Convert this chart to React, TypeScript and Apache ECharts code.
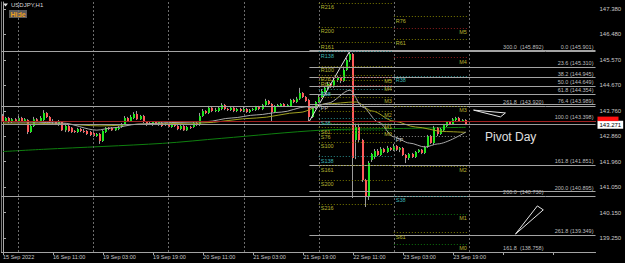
import React, { useEffect, useRef } from "react";
import * as echarts from "echarts";

const FONT = "Liberation Sans";
const xTickLabels = ["15 Sep 2022", "16 Sep 11:00", "19 Sep 03:00", "19 Sep 19:00", "20 Sep 11:00", "21 Sep 03:00", "21 Sep 19:00", "22 Sep 11:00", "23 Sep 03:00", "23 Sep 19:00"];
const yTickValues = [139.25, 140.15, 141.05, 141.96, 142.86, 143.76, 144.67, 145.57, 146.48, 147.38];
const SLOT_COUNT = 190;
const dayStartBars = [5, 29, 53, 77, 101, 125, 149];
const Y_MIN = 138.754;
const Y_MAX = 147.628;

// [open, close, low, high]
const sep15 = [
  [143.58, 143.40, 143.37, 143.65], [143.40, 143.51, 143.37, 143.55], [143.51, 143.37, 143.33, 143.55],
  [143.37, 143.47, 143.33, 143.51], [143.47, 143.40, 143.37, 143.51],
];
const sep16 = [
  [143.40, 143.51, 143.37, 143.58], [143.51, 143.40, 143.37, 143.55], [143.40, 143.47, 143.37, 143.51],
  [143.44, 143.01, 142.94, 143.47], [143.01, 143.23, 142.98, 143.26], [143.23, 143.47, 143.19, 143.55],
  [143.47, 143.40, 143.37, 143.51], [143.40, 143.51, 143.37, 143.58], [143.44, 143.69, 143.40, 143.79],
  [143.69, 143.55, 143.51, 143.72], [143.55, 143.40, 143.33, 143.58], [143.37, 143.40, 143.30, 143.47],
  [143.37, 143.30, 143.26, 143.40], [143.26, 143.37, 143.23, 143.44], [143.37, 143.08, 143.05, 143.40],
  [143.08, 143.23, 143.01, 143.26], [143.23, 143.05, 143.01, 143.26], [143.16, 143.01, 142.98, 143.19],
  [143.05, 143.01, 142.98, 143.08], [143.01, 143.12, 142.98, 143.16], [143.12, 143.05, 143.01, 143.16],
  [143.05, 143.01, 142.98, 143.12], [143.05, 142.94, 142.91, 143.08], [143.01, 142.91, 142.87, 143.05],
];
const sep19 = [
  [142.98, 142.87, 142.84, 143.01], [142.87, 142.94, 142.84, 142.98], [142.94, 142.69, 142.59, 142.98],
  [142.69, 143.05, 142.66, 143.08], [143.01, 143.16, 142.98, 143.19], [143.16, 143.12, 143.08, 143.19],
  [143.16, 143.08, 143.05, 143.19], [143.08, 143.16, 143.05, 143.19], [143.12, 143.16, 143.08, 143.23],
  [143.19, 143.30, 143.16, 143.33], [143.30, 143.51, 143.26, 143.58], [143.51, 143.40, 143.37, 143.55],
  [143.40, 143.55, 143.37, 143.62], [143.51, 143.65, 143.47, 143.72], [143.65, 143.47, 143.44, 143.76],
  [143.47, 143.58, 143.44, 143.62], [143.58, 143.37, 143.33, 143.62], [143.37, 143.26, 143.23, 143.40],
  [143.30, 143.33, 143.26, 143.37], [143.26, 143.37, 143.23, 143.40], [143.37, 143.30, 143.26, 143.40],
  [143.26, 143.37, 143.23, 143.40], [143.33, 143.23, 143.19, 143.37], [143.26, 143.30, 143.23, 143.33],
];
const sep20 = [
  [143.30, 143.19, 143.16, 143.33], [143.19, 143.30, 143.16, 143.33], [143.30, 143.23, 143.19, 143.33],
  [143.23, 143.12, 143.08, 143.26], [143.12, 143.23, 143.08, 143.26], [143.23, 143.08, 143.05, 143.26],
  [143.08, 143.19, 143.05, 143.23], [143.19, 143.16, 143.12, 143.23], [143.19, 143.33, 143.16, 143.37],
  [143.33, 143.26, 143.23, 143.37], [143.26, 143.58, 143.23, 143.69], [143.58, 143.76, 143.55, 143.83],
  [143.76, 143.69, 143.65, 143.79], [143.69, 143.87, 143.65, 143.94], [143.87, 143.76, 143.72, 143.90],
  [143.76, 143.79, 143.72, 143.87], [143.76, 143.87, 143.72, 143.90], [143.83, 143.97, 143.79, 144.04],
  [143.97, 143.83, 143.79, 144.01], [143.83, 143.79, 143.76, 143.87], [143.79, 143.87, 143.76, 143.90],
  [143.87, 143.76, 143.72, 143.90], [143.76, 143.83, 143.72, 143.87], [143.83, 143.76, 143.72, 143.87],
];
const sep21 = [
  [143.76, 143.83, 143.72, 143.90], [143.83, 143.72, 143.69, 143.87], [143.72, 143.79, 143.69, 143.83],
  [143.79, 143.83, 143.76, 143.87], [143.79, 143.90, 143.76, 143.94], [143.90, 143.83, 143.79, 143.94],
  [143.83, 143.97, 143.79, 144.01], [143.97, 144.11, 143.94, 144.19], [144.11, 144.01, 143.97, 144.15],
  [144.01, 143.72, 143.37, 144.04], [143.72, 143.94, 143.69, 143.97], [143.94, 143.97, 143.90, 144.01],
  [143.94, 144.01, 143.90, 144.04], [144.01, 143.94, 143.90, 144.04], [143.94, 143.97, 143.90, 144.01],
  [143.94, 144.15, 143.90, 144.19], [144.15, 144.08, 144.04, 144.19], [144.08, 144.19, 144.04, 144.26],
  [144.19, 144.40, 144.15, 144.58], [144.40, 144.26, 144.22, 144.43], [144.26, 144.11, 144.08, 144.29],
  [144.15, 143.55, 143.40, 144.19], [143.55, 143.87, 143.51, 143.94], [143.87, 144.08, 143.83, 144.11],
];
const sep22 = [
  [144.08, 144.26, 144.04, 144.33], [144.26, 144.47, 144.22, 144.54], [144.43, 144.58, 144.40, 144.65],
  [144.58, 144.72, 144.54, 144.79], [144.72, 144.61, 144.58, 144.75], [144.61, 144.86, 144.58, 144.93],
  [144.86, 144.93, 144.79, 145.00], [144.93, 144.82, 144.75, 144.97], [144.82, 145.21, 144.79, 145.28],
  [145.21, 145.57, 145.18, 145.64], [145.57, 145.78, 145.50, 145.90], [145.78, 142.09, 140.67, 145.82],
  [142.73, 143.19, 142.05, 143.30], [143.19, 142.73, 142.66, 143.26], [142.73, 141.31, 141.24, 142.77],
  [141.31, 140.71, 140.35, 141.35], [140.71, 141.91, 140.60, 141.98], [142.02, 142.23, 141.95, 142.27],
  [142.13, 142.34, 142.06, 142.41], [142.34, 142.20, 142.16, 142.41], [142.20, 142.41, 142.16, 142.48],
  [142.41, 142.30, 142.27, 142.45], [142.30, 142.45, 142.27, 142.52], [142.45, 142.38, 142.34, 142.48],
];
const sep23 = [
  [142.38, 142.52, 142.34, 142.59], [142.52, 142.38, 142.34, 142.55], [142.38, 142.45, 142.30, 142.48],
  [142.45, 142.20, 142.16, 142.48], [142.20, 142.09, 141.91, 142.23], [142.09, 142.23, 142.02, 142.27],
  [142.23, 142.13, 142.09, 142.27], [142.13, 142.30, 142.09, 142.34], [142.30, 142.38, 142.27, 142.41],
  [142.38, 142.27, 142.23, 142.41], [142.27, 142.48, 142.23, 142.52], [142.48, 142.87, 142.45, 142.91],
  [142.87, 142.62, 142.59, 142.91], [142.62, 143.16, 142.55, 143.23], [143.16, 142.94, 142.87, 143.19],
  [142.94, 143.12, 142.91, 143.16], [143.08, 143.26, 143.05, 143.30], [143.23, 143.37, 143.19, 143.40],
  [143.37, 143.30, 143.26, 143.40], [143.30, 143.47, 143.26, 143.51], [143.44, 143.51, 143.40, 143.55],
  [143.51, 143.40, 143.37, 143.55], [143.40, 143.44, 143.37, 143.47], [143.44, 143.27, 143.26, 143.47],
];

// moving averages: [bar index, price]
const maOlive = [[0, 143.33], [9, 143.33], [18, 143.30], [31, 143.23], [47, 143.30], [63, 143.33], [81, 143.51], [95, 143.71], [103, 144.01], [113, 144.08], [118, 143.76], [125, 143.40], [132, 143.19], [141, 143.03], [148, 143.00]];
const maGrey = [[0, 143.38], [9, 143.37], [19, 143.33], [30, 143.08], [35, 143.16], [43, 143.29], [54, 143.35], [65, 143.38], [73, 143.51], [81, 143.62], [89, 143.72], [97, 143.91], [99, 143.87], [104, 144.04], [111, 144.50], [115, 143.90], [120, 143.37], [125, 142.84], [130, 142.62], [135, 142.48], [139, 142.59], [148, 143.01]];
const maGreen = [[0, 142.32], [13, 142.40], [51, 142.61], [70, 142.79], [102, 143.08], [128, 143.14], [148, 143.18]];
const zigzag = [[98, 143.40], [111, 145.90]];
const wedgeA = [[150.5, 143.79], [160.7, 143.69], [159.1, 143.55], [150.5, 143.79]];
const wedgeB = [[163.9, 139.39], [170.9, 140.39], [172.8, 140.25], [163.9, 139.39]];
const bidPrice = 143.271;
const askPrice = 143.40;

// Fibonacci sets
const fibALevels = ["0.0", "23.6", "38.2", "50.0", "61.8", "76.4", "100.0", "161.8", "200.0", "261.8"];
const fibAPrices = [145.901, 145.31, 144.945, 144.649, 144.354, 143.989, 143.398, 141.851, 140.895, 139.349];
const fibBLevels = ["300.0", "261.8", "200.0", "161.8"];
const fibBPrices = [145.892, 143.92, 140.73, 138.758];

// Pivot levels
const pivot1Names = ["R216", "R200", "R161", "R138", "R100", "R76", "R61", "R38", "PP", "S38", "S61", "S76", "S100", "S138", "S161", "S200", "S216"];
const pivot1Values = [147.59, 146.74, 146.19, 145.87, 145.36, 145.04, 144.85, 144.52, 144.01, 143.49, 143.17, 142.98, 142.66, 142.14, 141.82, 141.31, 140.46];
const midNames = ["M5", "M4", "M3", "M2", "M1", "M0"];
const mid1Values = [144.95, 144.68, 144.26, 143.75, 143.33, 143.07];
const pivot2Names = ["R76", "R61", "R38", "PP", "S38", "S61"];
const pivot2Values = [147.11, 146.30, 144.99, 142.87, 140.75, 139.44];
const mid2Values = [146.71, 145.65, 143.93, 141.81, 140.10, 139.03];

function hSeg(x1: number, x2: number, y: number, lineStyle: any, label: any) {
  return [{ coord: [x1, y], lineStyle, label }, { coord: [x2, y] }];
}
function lbl(text: string, position: string, color: string, size = 5.5) {
  return { show: true, position, formatter: text, color, fontSize: size, fontFamily: FONT, distance: [2, 1] };
}
const noLabel = { show: false };

function pivotColors(name: string) {
  if (name === "PP") return { line: "#8c8c8c", text: "#d0d0d0" };
  if (name.endsWith("38")) return { line: "#2a8a8a", text: "#3cb4b4" };
  return { line: "#7a7a00", text: "#b4b430" };
}
function midColor(name: string) {
  if (name === "M5" || name === "M4") return "#8c1c1c";
  if (name === "M1" || name === "M0") return "#0c700c";
  return "#7a7a00";
}

function buildOption() {
  const bars = [...sep15, ...sep16, ...sep19, ...sep20, ...sep21, ...sep22, ...sep23];
  const candleData = bars.map((r, i) => [i, r[0], r[1], r[2], r[3]]);
  const categories = Array.from({ length: SLOT_COUNT }, (_, i) => String(i));
  const xEnd = SLOT_COUNT - 0.5;
  const fibStyle = { color: "#a4a4a4", width: 1, type: "solid" };

  const levelLines: any[] = [];
  fibAPrices.forEach((p, k) => {
    levelLines.push(hSeg(98, xEnd, p, fibStyle, lbl(`${fibALevels[k]} (${p.toFixed(3)})`, "insideEndTop", "#bdbdbd")));
  });
  fibBPrices.forEach((p, k) => {
    levelLines.push(hSeg(-0.5, 173.5, p, fibStyle, lbl(`${fibBLevels[k]}  (${p.toFixed(3)})`, "insideEndTop", "#bdbdbd")));
    levelLines.push(hSeg(173.5, xEnd, p, fibStyle, noLabel));
  });
  const dotted = [1, 2];
  pivot1Names.forEach((n, k) => {
    const c = pivotColors(n);
    levelLines.push(hSeg(101, 125, pivot1Values[k], { color: c.line, width: 1, type: dotted }, lbl(n, "insideStartBottom", c.text)));
  });
  midNames.forEach((n, k) => {
    levelLines.push(hSeg(101, 125, mid1Values[k], { color: midColor(n), width: 1, type: dotted }, lbl(n, "insideEndBottom", "#b4b430")));
  });
  pivot2Names.forEach((n, k) => {
    const c = pivotColors(n);
    levelLines.push(hSeg(125, 149, pivot2Values[k], { color: c.line, width: 1, type: dotted }, lbl(n, "insideStartBottom", c.text)));
  });
  midNames.forEach((n, k) => {
    levelLines.push(hSeg(125, 149, mid2Values[k], { color: midColor(n), width: 1, type: dotted }, lbl(n, "insideEndBottom", "#b4b430")));
  });

  const priceLines = [
    hSeg(-0.5, xEnd, askPrice, { color: "#a02020", width: 1, type: "solid" }, noLabel),
    hSeg(-0.5, xEnd, bidPrice, { color: "#9c9c9c", width: 1, type: "solid" }, {
      show: true, position: "end", distance: 2, formatter: bidPrice.toFixed(3), color: "#000",
      backgroundColor: "#ffffff", fontSize: 6, fontFamily: FONT, padding: [1, 2, 1, 2],
    }),
  ];

  return {
    animation: false,
    backgroundColor: "#000000",
    textStyle: { fontFamily: FONT },
    grid: { left: 0.5, right: 29.5, top: 2, bottom: 11 },
    xAxis: [
      {
        type: "category",
        data: categories,
        boundaryGap: true,
        axisLine: { show: true, lineStyle: { color: "#a8a8a8", width: 1 } },
        axisTick: { show: true, interval: 15, alignWithLabel: true, length: 3, lineStyle: { color: "#a8a8a8" } },
        axisLabel: {
          interval: 15,
          align: "left",
          margin: 2,
          fontSize: 5.5,
          color: "#c8c8c8",
          fontFamily: FONT,
          formatter: (_v: string, idx: number) => (idx % 16 === 0 && xTickLabels[idx / 16]) ? xTickLabels[idx / 16] : "",
        },
        splitLine: { show: false },
      },
      { type: "value", min: -0.5, max: xEnd, show: false },
    ],
    yAxis: [
      {
        type: "value",
        position: "right",
        min: Y_MIN,
        max: Y_MAX,
        axisLine: { show: true, lineStyle: { color: "#a8a8a8" } },
        axisTick: { show: true, length: 3, customValues: yTickValues, lineStyle: { color: "#a8a8a8" } },
        axisLabel: {
          show: true,
          customValues: yTickValues,
          formatter: (v: number) => v.toFixed(3),
          fontSize: 6,
          color: "#c8c8c8",
          margin: 4,
          fontFamily: FONT,
        },
        splitLine: { show: false },
      },
      {
        type: "value",
        position: "left",
        min: Y_MIN,
        max: Y_MAX,
        axisLine: { show: true, lineStyle: { color: "#7a7a7a" } },
        axisTick: { show: false },
        axisLabel: { show: false },
        splitLine: { show: false },
      },
    ],
    series: [
      {
        type: "line",
        xAxisIndex: 1,
        yAxisIndex: 0,
        data: maGreen,
        smooth: 0.3,
        symbol: "none",
        z: 1,
        lineStyle: { color: "#0f7f0f", width: 1 },
        markLine: {
          silent: true,
          symbol: ["none", "none"],
          label: { show: false },
          lineStyle: { color: "#6c6c6c", width: 1, type: [2, 2] },
          data: dayStartBars.map((b) => ({ xAxis: b })),
        },
      },
      {
        type: "line",
        xAxisIndex: 1,
        yAxisIndex: 0,
        data: zigzag,
        symbol: "none",
        z: 4,
        lineStyle: { color: "#e6e6e6", width: 1 },
        markLine: {
          silent: true,
          symbol: ["none", "none"],
          data: levelLines,
        },
      },
      {
        type: "custom",
        xAxisIndex: 0,
        yAxisIndex: 0,
        z: 2,
        data: candleData,
        encode: { x: 0, y: [1, 2, 3, 4] },
        renderItem: (_params: any, api: any) => {
          const x = api.value(0);
          const o = api.value(1);
          const c = api.value(2);
          const l = api.value(3);
          const h = api.value(4);
          const pO = api.coord([x, o]);
          const pC = api.coord([x, c]);
          const pL = api.coord([x, l]);
          const pH = api.coord([x, h]);
          const cx = Math.round(pO[0]);
          const top = Math.min(pO[1], pC[1]);
          const bh = Math.max(1, Math.abs(pO[1] - pC[1]));
          const up = c >= o;
          return {
            type: "group",
            children: [
              { type: "line", shape: { x1: cx - 0.5, y1: pH[1], x2: cx - 0.5, y2: pL[1] }, style: { stroke: "#9c9c9c", lineWidth: 1 } },
              { type: "rect", shape: { x: cx - 1, y: top, width: 2, height: bh }, style: { fill: up ? "#1ee61e" : "#ff5a5a" } },
            ],
          };
        },
      },
      {
        type: "line",
        xAxisIndex: 1,
        yAxisIndex: 0,
        data: maOlive,
        smooth: 0.3,
        smoothMonotone: "x",
        symbol: "none",
        z: 3,
        lineStyle: { color: "#a0a020", width: 1 },
      },
      {
        type: "line",
        xAxisIndex: 1,
        yAxisIndex: 0,
        data: maGrey,
        smooth: 0.3,
        smoothMonotone: "x",
        symbol: "none",
        z: 3,
        lineStyle: { color: "#a8a8a8", width: 1 },
        markLine: {
          silent: true,
          symbol: ["none", "none"],
          data: priceLines,
        },
      },
      {
        type: "line",
        xAxisIndex: 1,
        yAxisIndex: 0,
        data: wedgeA,
        symbol: "none",
        z: 4,
        lineStyle: { color: "#e6e6e6", width: 1 },
      },
      {
        type: "line",
        xAxisIndex: 1,
        yAxisIndex: 0,
        data: wedgeB,
        symbol: "none",
        z: 4,
        lineStyle: { color: "#e6e6e6", width: 1 },
      },
    ],
    graphic: [
      { id: "tri", type: "polygon", shape: { points: [[3, 3.5], [8, 3.5], [5.5, 6.5]] }, style: { fill: "#e0e0e0" } },
      { id: "title", type: "text", x: 11, y: 2, style: { text: "USDJPY,H1", fill: "#d8d8d8", fontSize: 6, fontFamily: FONT } },
      { id: "hideBg", type: "rect", shape: { x: 9, y: 10, width: 18, height: 8 }, style: { fill: "#595959" } },
      { id: "hideTx", type: "text", x: 10.5, y: 10.5, style: { text: "Hide", fill: "#f0a020", fontSize: 7, fontWeight: "bold", fontFamily: FONT } },
      { id: "pivotDay", type: "text", x: 485, y: 131, style: { text: "Pivot Day", fill: "#e0e0e0", fontSize: 12, fontFamily: FONT } },
    ],
  };
}

export default function App() {
  const ref = useRef<HTMLDivElement>(null);
  useEffect(() => {
    if (!ref.current) return;
    const chart = echarts.init(ref.current, null, { renderer: "svg" });
    chart.setOption(buildOption() as any);
    const askY = chart.convertToPixel({ yAxisIndex: 0 } as any, askPrice) as unknown as number;
    const axisX = chart.convertToPixel({ xAxisIndex: 1 } as any, SLOT_COUNT - 0.5) as unknown as number;
    chart.setOption({
      graphic: [
        { id: "askTag", type: "rect", z: 100, shape: { x: axisX + 2, y: askY - 4.5, width: 21, height: 4.5 }, style: { fill: "#ff1010" } },
      ],
    } as any);
    return () => chart.dispose();
  }, []);
  return <div ref={ref} style={{ position: "fixed", left: 0, top: 0, width: 625, height: 263, background: "#000" }} />;
}
